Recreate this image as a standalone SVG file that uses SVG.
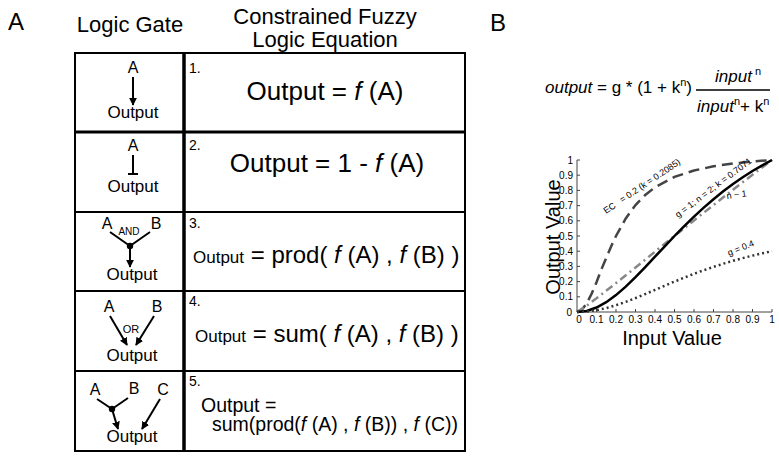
<svg xmlns="http://www.w3.org/2000/svg" width="779" height="458" viewBox="0 0 779 458">
<defs>
<marker id="arr" viewBox="0 0 10 10" refX="9" refY="5" markerWidth="8" markerHeight="8" markerUnits="userSpaceOnUse" orient="auto"><path d="M0,0 L10,5 L0,10 z" fill="#000"/></marker>
</defs>
<style>
text{font-family:"Liberation Sans",Arial,Helvetica,sans-serif;fill:#000}
.pl{font-size:24px}
.hd{font-size:22px;text-anchor:middle}
.gt{font-size:16px;text-anchor:middle}
.op{font-size:17px;text-anchor:middle}
.gs{font-size:10px;text-anchor:middle}
.num{font-size:14px}
.eq{font-size:26px}
.sm{font-size:17px}
.big{font-size:24px}
.it{font-style:italic}
.ln{stroke:#000;stroke-width:2;fill:none}
.arw{stroke:#000;stroke-width:2;fill:none;marker-end:url(#arr)}
.grid{stroke:#000;fill:none}
.tk{font-size:10px;fill:#222}
.ax{stroke:#444;stroke-width:1;fill:none}
.cl{font-size:9px;fill:#333}
.fm{font-size:17px}
.sup{font-size:11px}
</style>

<text class="pl" x="8" y="30">A</text>
<text class="pl" x="490" y="31">B</text>

<g id="headers">
<text class="hd" x="130" y="32">Logic Gate</text>
<text class="hd" x="325" y="24">Constrained Fuzzy</text>
<text class="hd" x="325" y="47">Logic Equation</text>
</g>

<g id="table-grid" class="grid">
<rect x="75" y="53" width="390" height="398" stroke-width="2"/>
<line x1="184" y1="53" x2="184" y2="451" stroke-width="3.5"/>
<line x1="75" y1="132" x2="465" y2="132" stroke-width="3"/>
<line x1="75" y1="212" x2="465" y2="212" stroke-width="2"/>
<line x1="75" y1="291" x2="465" y2="291" stroke-width="2"/>
<line x1="75" y1="371" x2="465" y2="371" stroke-width="2"/>
</g>

<g id="gate1">
<text class="gt" x="133" y="73">A</text>
<line class="arw" x1="133" y1="77" x2="133" y2="105"/>
<text class="op" x="133" y="118">Output</text>
</g>
<g id="eq1">
<text class="num" x="189" y="73">1.</text>
<text class="eq" x="325" y="100" text-anchor="middle">Output = <tspan class="it">f</tspan> (A)</text>
</g>

<g id="gate2">
<text class="gt" x="133" y="151">A</text>
<line class="ln" x1="133" y1="155" x2="133" y2="174"/>
<line class="ln" x1="128" y1="174" x2="138" y2="174"/>
<text class="op" x="133" y="192">Output</text>
</g>
<g id="eq2">
<text class="num" x="189" y="150">2.</text>
<text class="eq" x="327" y="172" text-anchor="middle">Output = 1 - <tspan class="it">f</tspan> (A)</text>
</g>

<g id="gate3">
<text class="gt" x="107" y="229">A</text>
<text class="gt" x="156" y="229">B</text>
<text class="gs" x="129" y="235">AND</text>
<line class="ln" x1="110" y1="232" x2="130" y2="246"/>
<line class="ln" x1="150" y1="232" x2="130" y2="246"/>
<circle cx="130" cy="246" r="3.2" fill="#000"/>
<line class="arw" x1="130" y1="246" x2="130" y2="267"/>
<text class="op" x="132" y="280">Output</text>
</g>
<g id="eq3">
<text class="num" x="189" y="228">3.</text>
<text x="193" y="263"><tspan class="sm">Output</tspan><tspan class="big"> = prod( <tspan class="it">f</tspan> (A) , <tspan class="it">f</tspan> (B) )</tspan></text>
</g>

<g id="gate4">
<text class="gt" x="109" y="312">A</text>
<text class="gt" x="157" y="312">B</text>
<text class="gs" x="131" y="333" style="font-size:11px">OR</text>
<line class="arw" x1="110" y1="316" x2="127" y2="345"/>
<line class="arw" x1="154" y1="316" x2="136" y2="345"/>
<text class="op" x="132" y="361">Output</text>
</g>
<g id="eq4">
<text class="num" x="189" y="306">4.</text>
<text x="195" y="342"><tspan class="sm">Output</tspan><tspan class="big"> = sum( <tspan class="it">f</tspan> (A) , <tspan class="it">f</tspan> (B) )</tspan></text>
</g>

<g id="gate5">
<text class="gt" x="95" y="395">A</text>
<text class="gt" x="134" y="394">B</text>
<text class="gt" x="163" y="395">C</text>
<line class="ln" x1="97" y1="399" x2="112" y2="409"/>
<line class="ln" x1="128" y1="398" x2="112" y2="409"/>
<circle cx="112" cy="409" r="3.2" fill="#000"/>
<line class="arw" x1="112" y1="409" x2="118" y2="429"/>
<line class="arw" x1="160" y1="399" x2="142" y2="429"/>
<text class="op" x="132" y="442">Output</text>
</g>
<g id="eq5">
<text class="num" x="189" y="386">5.</text>
<text x="201" y="412" style="font-size:19.5px">Output =</text>
<text x="212" y="431" style="font-size:19.5px">sum(prod(<tspan class="it">f</tspan> (A) , <tspan class="it">f</tspan> (B)) , <tspan class="it">f</tspan> (C))</text>
</g>

<g id="formula">
<text class="fm" x="545" y="93"><tspan class="it">output</tspan> = g * (1 + k<tspan class="sup" dy="-7">n</tspan><tspan dy="7">)</tspan></text>
<line x1="696" y1="90" x2="770" y2="90" stroke="#000" stroke-width="1.3"/>
<text class="fm" x="715" y="82"><tspan class="it">input</tspan><tspan class="sup" dx="3" dy="-7">n</tspan></text>
<text class="fm" x="697" y="112"><tspan class="it">input</tspan><tspan class="sup" dy="-7">n</tspan><tspan dy="7">+ k</tspan><tspan class="sup" dy="-7">n</tspan></text>
</g>

<g id="chart">
<g id="axes" class="ax">
<line x1="577" y1="160" x2="577" y2="312"/>
<line x1="577" y1="312" x2="772" y2="312"/>
<path d="M577,296.8h3M577,281.6h3M577,266.4h3M577,251.2h3M577,236h3M577,220.8h3M577,205.6h3M577,190.4h3M577,175.2h3M577,160h3"/>
<path d="M596.5,312v-3M616,312v-3M635.5,312v-3M655,312v-3M674.5,312v-3M694,312v-3M713.5,312v-3M733,312v-3M752.5,312v-3M772,312v-3"/>
</g>
<g id="yticks" class="tk" text-anchor="end">
<text x="573" y="163.5">1</text>
<text x="573" y="178.7">0.9</text>
<text x="573" y="193.9">0.8</text>
<text x="573" y="209.1">0.7</text>
<text x="573" y="224.3">0.6</text>
<text x="573" y="239.5">0.5</text>
<text x="573" y="254.7">0.4</text>
<text x="573" y="269.9">0.3</text>
<text x="573" y="285.1">0.2</text>
<text x="573" y="300.3">0.1</text>
<text x="572" y="316">0</text>
</g>
<g id="xticks" class="tk" text-anchor="middle">
<text x="579" y="323">0</text>
<text x="596.5" y="323">0.1</text>
<text x="616" y="323">0.2</text>
<text x="635.5" y="323">0.3</text>
<text x="655" y="323">0.4</text>
<text x="674.5" y="323">0.5</text>
<text x="694" y="323">0.6</text>
<text x="713.5" y="323">0.7</text>
<text x="733" y="323">0.8</text>
<text x="752.5" y="323">0.9</text>
<text x="772" y="323">1</text>
</g>
<text x="560" y="237" transform="rotate(-90 560 237)" text-anchor="middle" style="font-size:20px">Output Value</text>
<text x="672" y="345" text-anchor="middle" style="font-size:20px">Input Value</text>

<g id="curves" fill="none" stroke-width="2.5">
<polyline stroke="#444" stroke-dasharray="11 6" points="577,312 581.9,309.75 586.75,303.4 591.6,293.8 596.5,282.3 601.4,269.4 606.25,257.9 611.1,246.5 616,236 625.75,218.5 635.5,205.05 645.25,194.9 655,187.3 674.5,176.9 694,170.5 713.5,166.3 733,163.5 752.5,161.5 772,160"/>
<polyline stroke="#888" stroke-dasharray="8 4 2 4" points="577,312 586.75,305.6 596.5,298.35 616,283.1 635.5,267.5 655,251.7 674.5,236 694,220.4 713.5,205 733,189.75 752.5,174.7 772,160"/>
<polyline stroke="#000" points="577,312 586.75,310.9 596.5,307.5 606.25,302.2 616,295.1 625.75,286.7 635.5,277.2 645.25,267.1 655,256.7 664.75,246.3 674.5,236 684.25,226.1 694,216.6 703.75,207.6 713.5,199.2 723.25,191.3 733,184 742.75,177.25 752.5,171 762.25,165.3 772,160"/>
<polyline stroke="#333" stroke-dasharray="2 3" points="577,312 586.75,311.55 596.5,310.2 606.25,308.1 616,305.2 625.75,301.9 635.5,298.1 645.25,294.05 655,289.9 664.75,285.7 674.5,281.6 684.25,277.6 694,273.8 703.75,270.2 713.5,266.9 723.25,263.7 733,260.8 742.75,258.1 752.5,255.6 762.25,253.3 772,251.2"/>
</g>
<g id="curve-labels" class="cl">
<text transform="translate(606 214) rotate(-34)">EC<tspan dx="7">= 0.2 (k = 0.2085)</tspan></text>
<text transform="translate(678 218) rotate(-37)">g = 1; n = 2; k = 0.7071</text>
<text transform="translate(727 199) rotate(-8)">n ~ 1</text>
<text transform="translate(729 256) rotate(-22)">g = 0.4</text>
</g>
</g>
</svg>
